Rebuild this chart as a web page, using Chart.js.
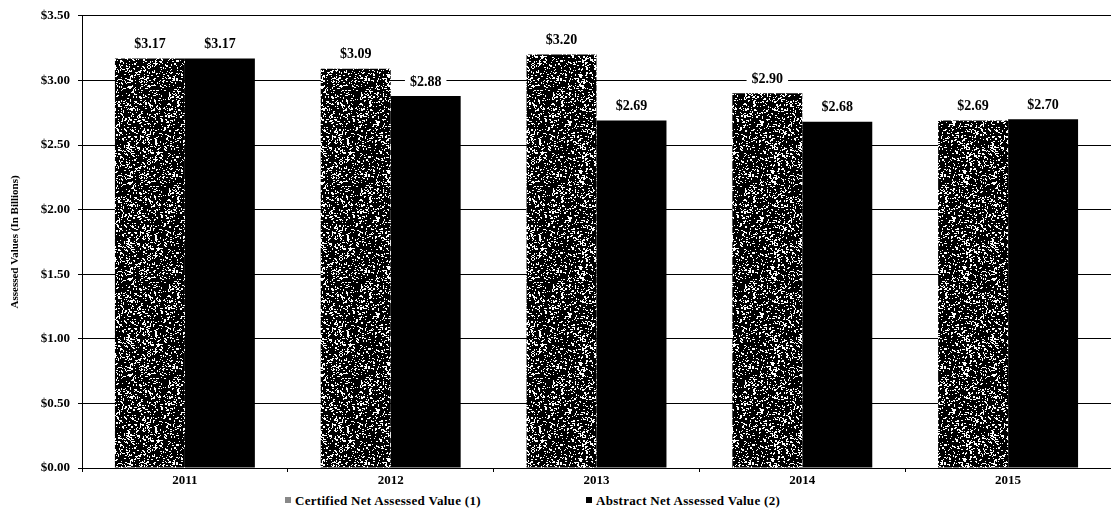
<!DOCTYPE html>
<html>
<head>
<meta charset="utf-8">
<script src="https://cdn.jsdelivr.net/npm/chart.js@4.4.1/dist/chart.umd.min.js"></script>
<style>
    body { margin: 0; background: #fff; }
    #wrap { width: 1111px; height: 490px; position: relative; }
    #legend {
        height: 30px; width: 1111px; position: relative;
        font-family: "Liberation Serif", serif; font-weight: bold; font-size: 13px; color: #000;
        letter-spacing: 0.3px;
    }
    .item { position: absolute; top: 3px; white-space: nowrap; }
    .box { display: inline-block; width: 6px; height: 6px; margin-right: 4px; vertical-align: 2px; }
</style>
</head>
<body>
<div id="wrap"><canvas id="myChart" width="1111" height="490"></canvas></div>
<div id="legend">
    <span class="item" style="left:285px"><span class="box" style="background:#888"></span>Certified Net Assessed Value (1)</span>
    <span class="item" style="left:586px"><span class="box" style="background:#000"></span>Abstract Net Assessed Value (2)</span>
</div>
<script>
const years = ['2011', '2012', '2013', '2014', '2015'];
const certified = [3.17, 3.09, 3.20, 2.90, 2.69];
const abstractVals = [3.17, 2.88, 2.69, 2.68, 2.70];
const yTicks = [0, 0.5, 1, 1.5, 2, 2.5, 3, 3.5];

const serif = '"Liberation Serif", "Times New Roman", serif';

// speckled fill for the certified bars (fixed seed so it's the same every load)
function speckle() {
    const c = document.createElement('canvas');
    c.width = 96; c.height = 96;
    const g = c.getContext('2d');
    g.fillStyle = '#000';
    g.fillRect(0, 0, 96, 96);
    g.fillStyle = '#fff';
    let s = 987654;
    function next() {
        s = (s * 16807) % 2147483647;
        return s / 2147483647;
    }
    for (let i = 0; i < 1500; i++) {
        const x = Math.floor(next() * 96);
        const y = Math.floor(next() * 96);
        const w = next() < 0.3 ? 2 : 1;
        const h = next() < 0.2 ? 2 : 1;
        g.fillRect(x, y, w, h);
    }
    return g.createPattern(c, 'repeat');
}

const valueLabels = {
    id: 'valueLabels',
    afterDatasetsDraw(chart) {
        const ctx = chart.ctx;
        ctx.save();
        ctx.font = 'bold 14px ' + serif;
        ctx.textAlign = 'center';
        ctx.textBaseline = 'middle';
        chart.data.datasets.forEach(function(ds, i) {
            chart.getDatasetMeta(i).data.forEach(function(bar, j) {
                const txt = '$' + ds.data[j].toFixed(2);
                const w = ctx.measureText(txt).width;
                const y = bar.y - 14;
                ctx.fillStyle = '#fff';
                ctx.fillRect(bar.x - w / 2 - 5, y - 7, w + 10, 14);
                ctx.fillStyle = '#000';
                ctx.fillText(txt, bar.x, y);
            });
        });
        ctx.restore();
    }
};

const data = {
    labels: years,
    datasets: [{
        label: 'Certified Net Assessed Value (1)',
        data: certified,
        backgroundColor: speckle(),
        barPercentage: 1.0,
        categoryPercentage: 0.68
    }, {
        label: 'Abstract Net Assessed Value (2)',
        data: abstractVals,
        backgroundColor: '#000',
        barPercentage: 1.0,
        categoryPercentage: 0.68
    }]
};

const config = {
    type: 'bar',
    data: data,
    plugins: [valueLabels],
    options: {
        responsive: false,
        animation: false,
        layout: { padding: { top: 15, right: 0, left: 9, bottom: 0 } },
        plugins: {
            legend: { display: false },
            tooltip: { enabled: false }
        },
        scales: {
            x: {
                grid: { offset: true, drawOnChartArea: false, drawTicks: true, tickLength: 4, color: '#000' },
                border: { color: '#000', width: 1 },
                ticks: { color: '#000', font: { family: serif, weight: 'bold', size: 13 }, padding: 1 },
                afterFit: function(scale) { scale.height = 22; }
            },
            y: {
                min: 0,
                max: 3.5,
                afterBuildTicks: function(scale) {
                    scale.ticks = yTicks.map(function(v) { return { value: v }; });
                },
                grid: { color: '#000', lineWidth: 1, tickLength: 4 },
                border: { color: '#000', width: 1 },
                ticks: {
                    color: '#000',
                    padding: 8,
                    font: { family: serif, weight: 'bold', size: 13 },
                    callback: function(v) { return '$' + Number(v).toFixed(2); }
                },
                title: {
                    display: true,
                    text: 'Assessed Values (In Billions)',
                    color: '#000',
                    font: { family: serif, weight: 'bold', size: 11 },
                    padding: 0
                },
                afterFit: function(scale) { scale.width = 73; }
            }
        }
    }
};

const myChart = new Chart(document.getElementById('myChart'), config);
</script>
</body>
</html>
